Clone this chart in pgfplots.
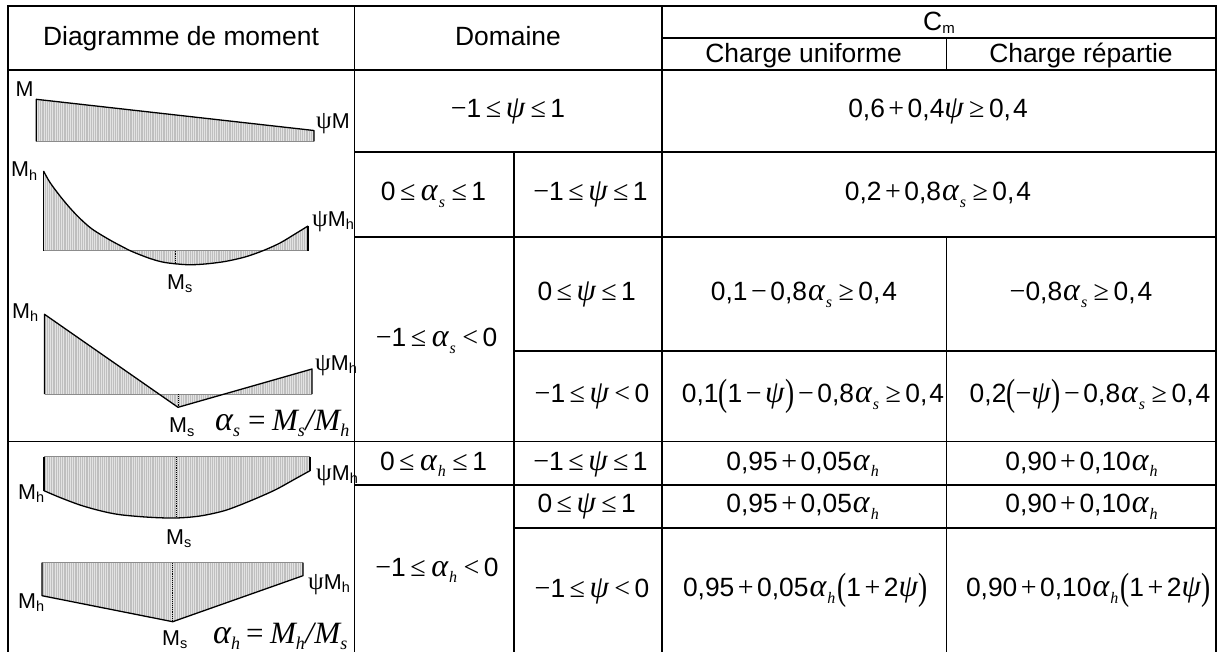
\documentclass[border=0pt]{standalone}
\usepackage{fontspec}
\usepackage{pgfplots}
\usepackage{graphicx}
\pgfplotsset{compat=1.18}
\usetikzlibrary{patterns.meta}
\setmainfont{Liberation Sans}
\newfontfamily\ser{Liberation Serif}
\newcommand\subi[1]{\raisebox{-6.5pt}{\fontsize{16}{16}\selectfont\ser\itshape #1}}
\newcommand\al[1]{\kern1pt{\fontsize{32}{32}\selectfont\ser\itshape α}\kern1pt\subi{#1}\kern2pt}
\newcommand\pv{{\fontsize{31}{31}\selectfont\ser\itshape ψ}\kern1pt}
\newcommand\rl[1]{\kern4.5pt{\fontsize{28}{28}\selectfont\ser #1}\kern4.5pt}
\newcommand\mi{{\fontsize{28}{28}\selectfont\ser −}}
\newcommand\op[1]{\kern3.5pt{\fontsize{28}{28}\selectfont\ser #1}\kern3.5pt}
\newcommand\lp{\raisebox{-3pt}{\scalebox{.72}[1]{\fontsize{38}{38}\selectfont\ser (}}}
\newcommand\rp{\raisebox{-3pt}{\scalebox{.72}[1]{\fontsize{38}{38}\selectfont\ser )}}}
\newcommand\sM[1]{M\raisebox{-3.5pt}{\fontsize{14.5}{14.5}\selectfont #1}}
\newcommand\upsi{{\fontsize{25}{25}\selectfont\ser ψ}}
\newcommand\fal{{\fontsize{34}{34}\selectfont α}}
\newcommand\fs[1]{\raisebox{-6pt}{\fontsize{18}{18}\selectfont #1}}
\tikzset{
  tc/.style={anchor=base,inner sep=0pt,font=\fontsize{26.4}{30}\selectfont},
  tl/.style={anchor=base west,inner sep=0pt,font=\fontsize{21.5}{25}\selectfont},
  tf/.style={anchor=base west,inner sep=0pt,font=\fontsize{31}{34}\selectfont\ser\itshape},
  pg/.style={draw=none,fill=black!25},
  ph/.style={draw=none,pattern={Lines[angle=90,distance=2.2pt,line width=.7pt]},pattern color=black!11},
  po/.style={black,line width=1.3pt,line join=round},
  pb/.style={black!45,line width=.9pt},
  pd/.style={black,line width=.9pt,densely dotted},
  pt/.style={black,line width=1.8pt},
}
\begin{document}
\begin{tikzpicture}
\begin{axis}[name=a,width=1220pt,height=652pt,scale only axis,xmin=0,xmax=1220,ymin=0,ymax=652,y dir=reverse,hide axis,clip=false]
% diagram 1
\addplot[pg] coordinates {(36.3,141.5)(36.3,99.3)(314,130.5)(314,141.5)} --cycle;
\addplot[ph] coordinates {(36.3,141.5)(36.3,99.3)(314,130.5)(314,141.5)} --cycle;
\addplot[pb] coordinates {(36.3,141.5)(314,141.5)};
\addplot[po] coordinates {(36.3,141.5)(36.3,99.3)(314,130.5)(314,141.5)};
% diagram 2
\addplot[pg] coordinates {(43.5,250.7)(43.5,171)(50,182.5)(60,196)(70,208)(80,218.5)(92,229)(109,239.5)(122,246.5)(132,251.5)(150,258.5)(165,262.5)(187,264.7)(205,264)(225,261.5)(245,257)(263,250.7)(280,243)(295,234)(308,226)(308,250.7)} --cycle;
\addplot[ph] coordinates {(43.5,250.7)(43.5,171)(50,182.5)(60,196)(70,208)(80,218.5)(92,229)(109,239.5)(122,246.5)(132,251.5)(150,258.5)(165,262.5)(187,264.7)(205,264)(225,261.5)(245,257)(263,250.7)(280,243)(295,234)(308,226)(308,250.7)} --cycle;
\addplot[pb] coordinates {(43.5,250.7)(308,250.7)};
\addplot[po] coordinates {(43.5,250.7)(43.5,171)};
\addplot[po,smooth] coordinates {(43.5,171)(50,182.5)(60,196)(70,208)(80,218.5)(92,229)(109,239.5)(122,246.5)(132,251.5)(150,258.5)(165,262.5)(187,264.7)(205,264)(225,261.5)(245,257)(263,250.7)(280,243)(295,234)(308,226)};
\addplot[po] coordinates {(308,226)(308,250.7)};
\addplot[pd] coordinates {(175.7,250.7)(175.7,264)};
% diagram 3
\addplot[pg] coordinates {(44.5,394)(44.5,314.3)(178,407.3)(312,369)(312,394)} --cycle;
\addplot[ph] coordinates {(44.5,394)(44.5,314.3)(178,407.3)(312,369)(312,394)} --cycle;
\addplot[pb] coordinates {(44.5,394)(312,394)};
\addplot[po] coordinates {(44.5,394)(44.5,314.3)(178,407.3)(312,369)(312,394)};
\addplot[pd] coordinates {(178,394)(178,407)};
% diagram 4
\addplot[pg] coordinates {(44,456.7)(44,490.7)(60,497.5)(80,505)(100,510.7)(120,514.7)(150,517.3)(176,518)(200,516)(225,510.5)(250,501)(275,490)(295,479)(310,470.7)(310,456.7)} --cycle;
\addplot[ph] coordinates {(44,456.7)(44,490.7)(60,497.5)(80,505)(100,510.7)(120,514.7)(150,517.3)(176,518)(200,516)(225,510.5)(250,501)(275,490)(295,479)(310,470.7)(310,456.7)} --cycle;
\addplot[pb] coordinates {(44,456.7)(310,456.7)};
\addplot[po] coordinates {(44,456.7)(44,490.7)};
\addplot[po,smooth] coordinates {(44,490.7)(60,497.5)(80,505)(100,510.7)(120,514.7)(150,517.3)(176,518)(200,516)(225,510.5)(250,501)(275,490)(295,479)(310,470.7)};
\addplot[po] coordinates {(310,470.7)(310,456.7)};
\addplot[pd] coordinates {(176.7,457)(176.7,517)};
% diagram 5
\addplot[pg] coordinates {(42,562.7)(42,595.7)(172.7,621.7)(303,575.7)(303,562.7)} --cycle;
\addplot[ph] coordinates {(42,562.7)(42,595.7)(172.7,621.7)(303,575.7)(303,562.7)} --cycle;
\addplot[pb] coordinates {(42,562.7)(303,562.7)};
\addplot[po] coordinates {(42,562.7)(42,595.7)(172.7,621.7)(303,575.7)(303,562.7)};
\addplot[pd] coordinates {(172.7,563)(172.7,621)};
% grid
\addplot[pt] coordinates {(7,6)(1216.7,6)};
\addplot[pt] coordinates {(7.7,6)(7.7,652)};
\addplot[pt] coordinates {(354.5,6)(354.5,70)};
\addplot[pt] coordinates {(7,69.7)(1216,69.7)};
\addplot[pt] coordinates {(662,37.7)(1216,37.7)};
\addplot[pt] coordinates {(354,152)(1216,152)};
\addplot[pt] coordinates {(354,236.7)(1216,236.7)};
\addplot[pt] coordinates {(514,350.7)(1216,350.7)};
\addplot[pt] coordinates {(7,441.5)(1216,441.5)};
\addplot[pt] coordinates {(354,484.8)(1216,484.8)};
\addplot[pt] coordinates {(514,527.7)(1216,527.7)};
\addplot[black,line width=1.1pt] coordinates {(354.5,69)(354.5,652)};
\addplot[pt] coordinates {(514,152)(514,652)};
\addplot[pt] coordinates {(662,6)(662,652)};
\addplot[pt] coordinates {(946.5,37.7)(946.5,69.7)};
\addplot[pt] coordinates {(946.5,236.7)(946.5,652)};
\addplot[pt] coordinates {(1215.8,6)(1215.8,652)};
% header
\node[tc] at (181,45.7) {Diagramme de moment};
\node[tc] at (508,46) {Domaine};
\node[tc] at (939,30.7) {C\raisebox{-2.5pt}{\fontsize{15}{15}\selectfont m}};
\node[tc] at (803.6,62.7) {Charge uniforme};
\node[tc] at (1081,62.7) {Charge répartie};
% domaine
\node[tc] at (508,118) {\mi 1\rl{≤}\pv\rl{≤}1};
\node[tc] at (938,118) {0,6\op{+}0,4\pv\rl{≥}0,\kern2pt4};
\node[tc] at (433.5,201) {0\rl{≤}\al{s}\rl{≤}1};
\node[tc] at (590.5,201) {\mi 1\rl{≤}\pv\rl{≤}1};
\node[tc] at (938,201) {0,2\op{+}0,8\al{s}\rl{≥}0,\kern2pt4};
\node[tc] at (436.6,346.7) {\mi 1\rl{≤}\al{s}\rl{<}0};
\node[tc] at (586.7,300.7) {0\rl{≤}\pv\rl{≤}1};
\node[tc] at (592,402) {\mi 1\rl{≤}\pv\rl{<}0};
\node[tc] at (804,300.7) {0,1\op{−}0,8\al{s}\rl{≥}0,\kern2pt4};
\node[tc] at (1081,300.7) {\mi 0,8\al{s}\rl{≥}0,\kern2pt4};
\node[tc] at (813,402.7) {0,1\lp 1\op{−}\pv\rp\op{−}0,8\al{s}\rl{≥}0,\kern2pt4};
\node[tc] at (1090,402.7) {0,2\lp\mi\pv\rp\op{−}0,8\al{s}\rl{≥}0,\kern2pt4};
\node[tc] at (433.5,470) {0\rl{≤}\al{h}\rl{≤}1};
\node[tc] at (590.5,470) {\mi 1\rl{≤}\pv\rl{≤}1};
\node[tc] at (803.6,470) {0,95\op{+}0,05\al{h}};
\node[tc] at (1082.5,470) {0,90\op{+}0,10\al{h}};
\node[tc] at (586.7,512.7) {0\rl{≤}\pv\rl{≤}1};
\node[tc] at (803.6,512.7) {0,95\op{+}0,05\al{h}};
\node[tc] at (1082.5,512.7) {0,90\op{+}0,10\al{h}};
\node[tc] at (437,576) {\mi 1\rl{≤}\al{h}\rl{<}0};
\node[tc] at (592,597.7) {\mi 1\rl{≤}\pv\rl{<}0};
\node[tc] at (805.5,596.7) {0,95\op{+}0,05\al{h}\lp 1\op{+}2\pv\rp};
\node[tc] at (1088.5,596.7) {0,90\op{+}0,10\al{h}\lp 1\op{+}2\pv\rp};
% labels in diagrams
\node[tl] at (15.5,97) {M};
\node[tl] at (316,128.5) {\upsi M};
\node[tl] at (11,177) {\sM{h}};
\node[tl] at (312,226.5) {\upsi\sM{h}};
\node[tl] at (167,289) {\sM{s}};
\node[tl] at (12,318.3) {\sM{h}};
\node[tl] at (315,370) {\upsi\sM{h}};
\node[tl] at (169,432.7) {\sM{s}};
\node[tf] at (215,430) {\fal\fs{s}\kern8pt{\upshape =}\kern6.5pt M\fs{s}\kern.5pt/\kern.5pt M\fs{h}};
\node[tl] at (18,499.3) {\sM{h}};
\node[tl] at (316,480) {\upsi\sM{h}};
\node[tl] at (166,544) {\sM{s}};
\node[tl] at (18,608.3) {\sM{h}};
\node[tl] at (308,589) {\upsi\sM{h}};
\node[tl] at (162,645) {\sM{s}};
\node[tf] at (213,643.5) {\fal\fs{h}\kern6pt{\upshape =}\kern6.5pt M\fs{h}\kern.5pt/\kern.5pt M\fs{s}};
\end{axis}
\pgfresetboundingbox
\path[use as bounding box] (a.south west) rectangle (a.north east);
\end{tikzpicture}
\end{document}
